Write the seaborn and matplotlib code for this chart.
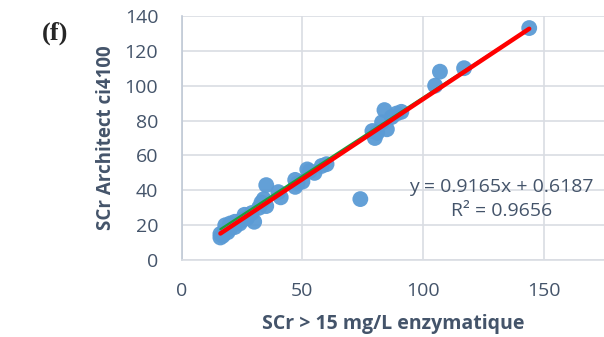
import matplotlib as mpl
mpl.use('Agg')
import matplotlib.pyplot as plt
import seaborn as sns
import numpy as np
import pandas as pd

# SCr enzymatique (x) vs Architect ci4100 (y)
scr_enz = [16, 16, 17, 18, 18, 19, 20, 20, 22, 22, 24, 25, 26, 27, 29, 30,
           32, 33, 34, 35, 35, 40, 41, 47, 47, 48, 50, 52, 53, 55, 58, 60,
           74, 79, 80, 81, 83, 84, 85, 87, 89, 91, 105, 107, 117, 144]
scr_arch = [13, 15, 14, 17, 20, 16, 18, 21, 19, 22, 21, 23, 26, 24, 27, 22,
            30, 33, 35, 43, 31, 39, 36, 42, 46, 44, 45, 52, 51, 50, 54, 55,
            35, 74, 70, 73, 79, 86, 75, 82, 84, 85, 100, 108, 110, 133]

slope = 0.9165
intercept = 0.6187
r2 = 0.9656

df = pd.DataFrame({'enz': scr_enz, 'arch': scr_arch})

sns.set_style('white')
plt.rcParams['font.family'] = ['Open Sans', 'DejaVu Sans']

txt = '#44546A'
grid = '#D9DDE3'

fig = plt.figure(figsize=(6.04, 3.37), dpi=100)
ax = fig.add_axes([0.301, 0.228, 0.699, 0.725])

sns.scatterplot(data=df, x='enz', y='arch', ax=ax, color='#5B9BD5', s=130,
                edgecolor='none', alpha=0.95, zorder=3, legend=False)

xs = np.array([min(scr_enz), max(scr_enz)])
# green trend line just under the red one
ax.plot(xs, 0.898 * xs + 3.4, color='#1E9E3A', lw=1.6, zorder=4)
ax.plot(xs, slope * xs + intercept, color='#FF0000', lw=3.2, zorder=5,
        solid_capstyle='round')

ax.set_xlim(0, 175)
ax.set_ylim(0, 140)
ax.set_xticks([0, 50, 100, 150])
ax.set_yticks(range(0, 141, 20))
ax.grid(True, color=grid, lw=1.2)
ax.set_axisbelow(True)
for s in ['top', 'right']:
    ax.spines[s].set_visible(False)
ax.spines['left'].set_color('#C0C9D6')
ax.spines['left'].set_linewidth(1.2)
ax.spines['bottom'].set_color(grid)
ax.spines['bottom'].set_linewidth(1.2)
ax.tick_params(length=0, labelsize=14, labelcolor=txt)
ax.tick_params(axis='x', pad=16)
ax.tick_params(axis='y', pad=17)

ax.set_xlabel('SCr > 15 mg/L enzymatique', fontsize=14, fontweight='bold',
              color=txt, labelpad=10)
ax.set_ylabel('SCr Architect ci4100', fontsize=13.5, fontweight='bold',
              color=txt, labelpad=6)

ax.text(0.757, 0.25, 'y = 0.9165x + 0.6187\nR² = 0.9656', transform=ax.transAxes,
        ha='center', va='center', fontsize=14, color=txt, linespacing=1.4,
        clip_on=False)

fig.text(0.091, 0.90, '(f)', fontsize=19, fontweight='bold',
         family='Liberation Serif', ha='center', va='center')

plt.savefig('out.png', dpi=100)
